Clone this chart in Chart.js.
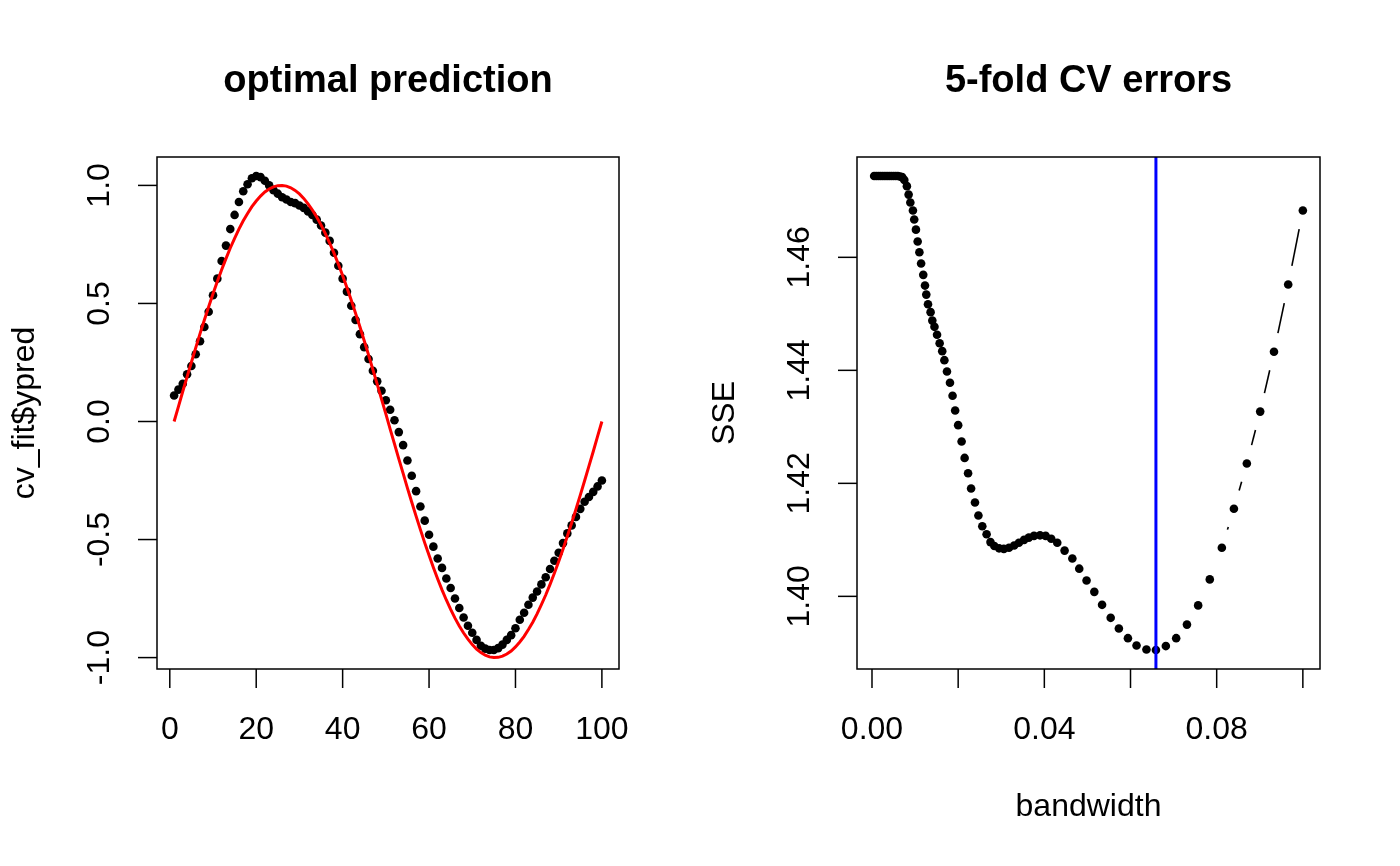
<!DOCTYPE html>
<html>
<head>
<meta charset="utf-8">
<script src="https://cdn.jsdelivr.net/npm/chart.js@4.4.0/dist/chart.umd.min.js"></script>
<style>
  html, body { margin: 0; padding: 0; background: #fff; }
  #wrap { position: relative; width: 1400px; height: 866px; }
  .panel { position: absolute; top: 0; width: 700px; height: 866px; }
</style>
</head>
<body>
<div id="wrap">
  <div class="panel" style="left:0"><canvas id="left" width="700" height="866"></canvas></div>
  <div class="panel" style="left:700px"><canvas id="right" width="700" height="866"></canvas></div>
</div>
<script>
// left panel: fitted values (dots) and true curve (red line), index 1..100
const index = Array.from({ length: 100 }, (_, i) => i + 1);
const predVals = [
  0.11, 0.135, 0.16, 0.20, 0.235, 0.285, 0.34, 0.40, 0.465, 0.535,
  0.605, 0.68, 0.745, 0.815, 0.875, 0.93, 0.975, 1.005, 1.03, 1.04,
  1.035, 1.02, 1.00, 0.98, 0.965, 0.95, 0.94, 0.93, 0.925, 0.915,
  0.905, 0.89, 0.875, 0.855, 0.83, 0.80, 0.765, 0.715, 0.66, 0.605,
  0.55, 0.49, 0.43, 0.37, 0.315, 0.265, 0.215, 0.17, 0.13, 0.09,
  0.05, 0.005, -0.045, -0.10, -0.165, -0.23, -0.295, -0.36, -0.42, -0.48,
  -0.53, -0.58, -0.62, -0.665, -0.705, -0.75, -0.79, -0.83, -0.865, -0.895,
  -0.925, -0.95, -0.962, -0.968, -0.968, -0.96, -0.945, -0.925, -0.905, -0.876,
  -0.84, -0.81, -0.776, -0.746, -0.72, -0.69, -0.66, -0.625, -0.59, -0.556,
  -0.515, -0.474, -0.44, -0.404, -0.37, -0.34, -0.32, -0.298, -0.275, -0.25
];
const trueVals = [
  0.00, 0.063, 0.127, 0.189, 0.251, 0.312, 0.372, 0.43, 0.486, 0.541,
  0.593, 0.643, 0.69, 0.735, 0.776, 0.815, 0.85, 0.881, 0.91, 0.934,
  0.955, 0.972, 0.985, 0.994, 0.999, 1.00, 0.997, 0.99, 0.979, 0.964,
  0.945, 0.922, 0.896, 0.866, 0.833, 0.796, 0.756, 0.713, 0.667, 0.618,
  0.567, 0.514, 0.458, 0.401, 0.342, 0.282, 0.22, 0.158, 0.095, 0.032,
  -0.032, -0.095, -0.158, -0.22, -0.282, -0.342, -0.401, -0.458, -0.514, -0.567,
  -0.618, -0.667, -0.713, -0.756, -0.796, -0.833, -0.866, -0.896, -0.922, -0.945,
  -0.964, -0.979, -0.99, -0.997, -1.00, -0.999, -0.994, -0.985, -0.972, -0.955,
  -0.934, -0.91, -0.881, -0.85, -0.815, -0.776, -0.735, -0.69, -0.643, -0.593,
  -0.541, -0.486, -0.43, -0.372, -0.312, -0.251, -0.189, -0.127, -0.063, 0.00
];

// right panel: CV error for each bandwidth
const bandwidth = [
  0.0005, 0.001, 0.0015, 0.002, 0.0025, 0.003, 0.0035, 0.004, 0.0045, 0.005,
  0.0055, 0.006, 0.0065, 0.007, 0.0075, 0.0081, 0.0085, 0.0089, 0.0095, 0.0098,
  0.0102, 0.0106, 0.011, 0.0114, 0.0119, 0.0123, 0.0126, 0.013, 0.0136, 0.014,
  0.0145, 0.0151, 0.0157, 0.0163, 0.0168, 0.0174, 0.0181, 0.0187, 0.0193, 0.02,
  0.0208, 0.0215, 0.0223, 0.023, 0.0239, 0.0247, 0.0256, 0.0266, 0.0275, 0.0284,
  0.0295, 0.0306, 0.0318, 0.033, 0.0341, 0.0353, 0.0364, 0.0376, 0.039, 0.0403,
  0.0416, 0.043, 0.0447, 0.0465, 0.0481, 0.0498, 0.0516, 0.0534, 0.0554, 0.0573,
  0.0594, 0.0614, 0.0637, 0.0659, 0.0682, 0.0706, 0.0731, 0.0757, 0.0784, 0.0812,
  0.084, 0.087, 0.0901, 0.0933, 0.0966, 0.10
];
const sse = [
  1.4744, 1.4744, 1.4744, 1.4744, 1.4744, 1.4744, 1.4744, 1.4744, 1.4744, 1.4744,
  1.4744, 1.4744, 1.4743, 1.4742, 1.4737, 1.4726, 1.4711, 1.4697, 1.4683, 1.4667,
  1.4649, 1.4628, 1.4609, 1.4589, 1.4569, 1.455, 1.4534, 1.4517, 1.4503, 1.4488,
  1.4477, 1.4463, 1.4448, 1.4434, 1.4418, 1.4398, 1.4378, 1.4355, 1.4329, 1.4303,
  1.4274, 1.4245, 1.4218, 1.4191, 1.4166, 1.4143, 1.4124, 1.411, 1.4096, 1.4089,
  1.4085, 1.4084, 1.4086, 1.409, 1.4095, 1.41, 1.4104, 1.4107, 1.4108, 1.4107,
  1.4102, 1.4095, 1.4081, 1.4067, 1.4049, 1.4028, 1.4008, 1.3985, 1.3962, 1.3943,
  1.3926, 1.3913, 1.3906, 1.3905, 1.3912, 1.3926, 1.395, 1.3984, 1.403, 1.4086,
  1.4155, 1.4235, 1.4327, 1.4433, 1.4552, 1.4683
];
const bestBandwidth = 0.0659;

const leftXTicks = [0, 20, 40, 60, 80, 100];
const leftXLabels = ['0', '20', '40', '60', '80', '100'];
const leftYTicks = [-1, -0.5, 0, 0.5, 1];
const leftYLabels = ['-1.0', '-0.5', '0.0', '0.5', '1.0'];
const rightXTicks = [0, 0.02, 0.04, 0.06, 0.08, 0.10];
const rightXLabels = ['0.00', '', '0.04', '', '0.08', ''];
const rightYTicks = [1.40, 1.42, 1.44, 1.46];
const rightYLabels = ['1.40', '1.42', '1.44', '1.46'];

const FONT = '"Liberation Sans", Arial, sans-serif';

// R style axis limits: data range stretched by 4% each side
function rRange(vals) {
  const lo = Math.min(...vals), hi = Math.max(...vals);
  const e = (hi - lo) * 0.04;
  return [lo - e, hi + e];
}

function rAxes(cfg) {
  return {
    id: 'rAxes',
    afterDraw(chart) {
      const ctx = chart.ctx, a = chart.chartArea;
      const sx = chart.scales.x, sy = chart.scales.y;
      ctx.save();
      ctx.strokeStyle = '#000';
      ctx.fillStyle = '#000';
      ctx.lineWidth = 1.5;
      ctx.strokeRect(a.left, a.top, a.right - a.left, a.bottom - a.top);

      ctx.font = '32px ' + FONT;
      ctx.textAlign = 'center';
      ctx.textBaseline = 'middle';
      cfg.xTicks.forEach((v, i) => {
        const px = sx.getPixelForValue(v);
        ctx.beginPath();
        ctx.moveTo(px, a.bottom);
        ctx.lineTo(px, a.bottom + 19);
        ctx.stroke();
        if (cfg.xLabels[i]) ctx.fillText(cfg.xLabels[i], px, a.bottom + 61);
      });
      cfg.yTicks.forEach((v, i) => {
        const py = sy.getPixelForValue(v);
        ctx.beginPath();
        ctx.moveTo(a.left, py);
        ctx.lineTo(a.left - 19, py);
        ctx.stroke();
        ctx.save();
        ctx.translate(a.left - 57, py);
        ctx.rotate(-Math.PI / 2);
        ctx.fillText(cfg.yLabels[i], 0, 0);
        ctx.restore();
      });

      const cx = (a.left + a.right) / 2, cy = (a.top + a.bottom) / 2;
      if (cfg.xlab) ctx.fillText(cfg.xlab, cx, a.bottom + 138);
      if (cfg.ylab) {
        ctx.save();
        ctx.translate(a.left - 132, cy);
        ctx.rotate(-Math.PI / 2);
        ctx.fillText(cfg.ylab, 0, 0);
        ctx.restore();
      }
      ctx.font = 'bold 38px ' + FONT;
      ctx.fillText(cfg.title, cx, a.top - 75);
      ctx.restore();
    }
  };
}

// type = "b": segments between points, with a gap around each point
const typeB = {
  id: 'typeB',
  afterDatasetsDraw(chart) {
    const ctx = chart.ctx, pts = chart.getDatasetMeta(0).data, gap = 19;
    ctx.save();
    ctx.strokeStyle = '#000';
    ctx.lineWidth = 1.6;
    for (let i = 1; i < pts.length; i++) {
      const p = pts[i - 1], q = pts[i];
      const dx = q.x - p.x, dy = q.y - p.y, d = Math.hypot(dx, dy);
      if (d <= 2 * gap) continue;
      const ux = dx / d, uy = dy / d;
      ctx.beginPath();
      ctx.moveTo(p.x + ux * gap, p.y + uy * gap);
      ctx.lineTo(q.x - ux * gap, q.y - uy * gap);
      ctx.stroke();
    }
    // abline(v = best bandwidth)
    const a = chart.chartArea;
    const bx = chart.scales.x.getPixelForValue(bestBandwidth);
    ctx.strokeStyle = '#0000FF';
    ctx.lineWidth = 3;
    ctx.beginPath();
    ctx.moveTo(bx, a.top);
    ctx.lineTo(bx, a.bottom);
    ctx.stroke();
    ctx.restore();
  }
};

function baseOptions(xr, yr, padRight) {
  return {
    responsive: false,
    animation: false,
    events: [],
    layout: { padding: { left: 157, right: padRight, top: 157, bottom: 197 } },
    plugins: { legend: { display: false }, tooltip: { enabled: false } },
    scales: {
      x: { type: 'linear', min: xr[0], max: xr[1], display: false },
      y: { type: 'linear', min: yr[0], max: yr[1], display: false }
    }
  };
}

new Chart(document.getElementById('left'), {
  type: 'scatter',
  data: {
    datasets: [
      {
        data: index.map((x, i) => ({ x: x, y: trueVals[i] })),
        showLine: true,
        borderColor: '#FF0000',
        borderWidth: 3,
        pointRadius: 0,
        order: 1
      },
      {
        data: index.map((x, i) => ({ x: x, y: predVals[i] })),
        pointRadius: 4.3,
        pointBorderWidth: 0,
        pointBackgroundColor: '#000',
        order: 2
      }
    ]
  },
  options: baseOptions(rRange(index), rRange(predVals), 81),
  plugins: [rAxes({
    title: 'optimal prediction', xlab: '', ylab: 'cv_fit$ypred',
    xTicks: leftXTicks, xLabels: leftXLabels, yTicks: leftYTicks, yLabels: leftYLabels
  })]
});

new Chart(document.getElementById('right'), {
  type: 'scatter',
  data: {
    datasets: [{
      data: bandwidth.map((b, i) => ({ x: b, y: sse[i] })),
      pointRadius: 4.3,
      pointBorderWidth: 0,
      pointBackgroundColor: '#000'
    }]
  },
  options: baseOptions(rRange(bandwidth), rRange(sse), 80),
  plugins: [typeB, rAxes({
    title: '5-fold CV errors', xlab: 'bandwidth', ylab: 'SSE',
    xTicks: rightXTicks, xLabels: rightXLabels, yTicks: rightYTicks, yLabels: rightYLabels
  })]
});
</script>
</body>
</html>
